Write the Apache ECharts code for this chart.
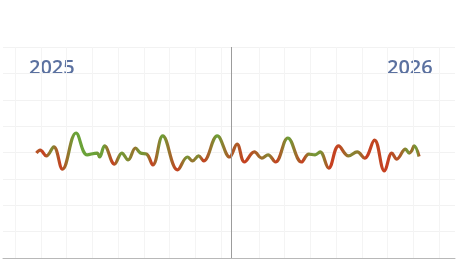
<!DOCTYPE html>
<html><head><meta charset="utf-8">
<script src="https://cdn.jsdelivr.net/npm/echarts@6/dist/echarts.min.js"></script>
<style>html,body{margin:0;padding:0;background:#fff}#c{width:464px;height:277px}</style>
</head><body><div id="c"></div>
<script>
// Days counted from 1 Jul 2025
const dayOffsets = [27,30,35,41,48,59,68,76,78,82,90,96,101,107,111,116,121,129,141,149,153,158,162,173,183,
  189,195,203,209,214,220,230,241,247,252,256,263,271,279,286,292,300,308,314,318,325,328,330,332,336];
const values = [-0.2,0.9,-1.3,2.1,-6.3,7.4,-0.9,-0.2,-1.7,2.5,-4.4,-0.2,-2.8,1.7,-0.2,-0.6,-4.7,6.3,-6.6,-1.7,-3.2,-1.3,-3.2,6.3,-1.7,
  3.2,-3.6,0.2,-2.1,-0.9,-3.6,5.5,-3.6,-0.6,-0.9,0.2,-5.9,2.5,-1.3,0.2,-2.1,4.7,-7.0,-0.2,-2.5,1.3,-0.2,0.6,2.5,-1.5];
const momentum = [-1,-0.5,-1,0.6,-1,1,1,1,0.8,1,-1,0.8,0.6,0,0.8,0.6,-1,1,-1,0.8,0,0.6,-1,1,-0.5,
  -0.4,-1,-0.4,0,0.4,-1,1,-1,0.6,0.8,0.6,-1,-0.8,0.4,0.2,-1,-0.8,-1,-0.6,-0.6,0.8,-0.2,0.6,0.8,-1];
const yearLabels = ['2025','2026'];
const yearStartDay = 184; // 1 Jan 2026

const GREEN = [106,162,56], RED = [200,62,32];
function mix(t){
  const u = (t + 1) / 2;
  return 'rgb(' + GREEN.map((g,i)=>Math.round(RED[i] + (g - RED[i]) * u)).join(',') + ')';
}
const x0 = dayOffsets[0], x1 = dayOffsets[dayOffsets.length-1];
const stops = dayOffsets.map((d,i)=>({offset:(d - x0)/(x1 - x0), color: mix(momentum[i])}));

const hiddenAxis = {axisLine:{show:false},axisTick:{show:false},axisLabel:{show:false}};
const chart = echarts.init(document.getElementById('c'), null, {renderer:'canvas'});
chart.setOption({
  animation:false,
  backgroundColor:'#ffffff',
  grid:[
    {left:3,right:9,top:47,bottom:19},
    {left:15,right:243,top:47,bottom:19},
    {left:259,right:25,top:47,bottom:19}
  ],
  xAxis:[
    {gridIndex:0,type:'value',min:0,max:365,axisLine:{show:true,onZero:false,lineStyle:{color:'#b8b8b8',width:1}},
     axisTick:{show:false},axisLabel:{show:false},splitLine:{show:false}},
    Object.assign({gridIndex:1,type:'value',min:0,max:8,interval:1,splitLine:{show:true,lineStyle:{color:'#f4f4f4'}}},hiddenAxis),
    Object.assign({gridIndex:2,type:'value',min:0,max:7,interval:1,splitLine:{show:true,lineStyle:{color:'#f4f4f4'}}},hiddenAxis)
  ],
  yAxis:[
    Object.assign({gridIndex:0,type:'value',min:-40,max:40,interval:10,splitLine:{show:true,lineStyle:{color:'#f2f2f2'}}},hiddenAxis),
    Object.assign({gridIndex:1,type:'value',min:0,max:1,splitLine:{show:false}},hiddenAxis),
    Object.assign({gridIndex:2,type:'value',min:0,max:1,splitLine:{show:false}},hiddenAxis)
  ],
  graphic:[
    {type:'text',left:29,top:58,style:{text:yearLabels[0],font:'600 20px "Open Sans"',fill:'#5b71a0'}},
    {type:'text',left:387,top:58,style:{text:yearLabels[1],font:'600 20px "Open Sans"',fill:'#5b71a0'}}
  ],
  series:[{
    type:'line',
    xAxisIndex:0,yAxisIndex:0,
    data:dayOffsets.map((d,i)=>[d,values[i]]),
    smooth:0.4,
    showSymbol:false,
    lineStyle:{width:3.2,color:{type:'linear',x:0,y:0,x2:1,y2:0,colorStops:stops}},
    markLine:{silent:true,symbol:'none',label:{show:false},
      lineStyle:{color:'#9c9c9c',width:1,type:'solid'},
      data:[{xAxis:yearStartDay}]}
  }]
});
</script></body></html>
